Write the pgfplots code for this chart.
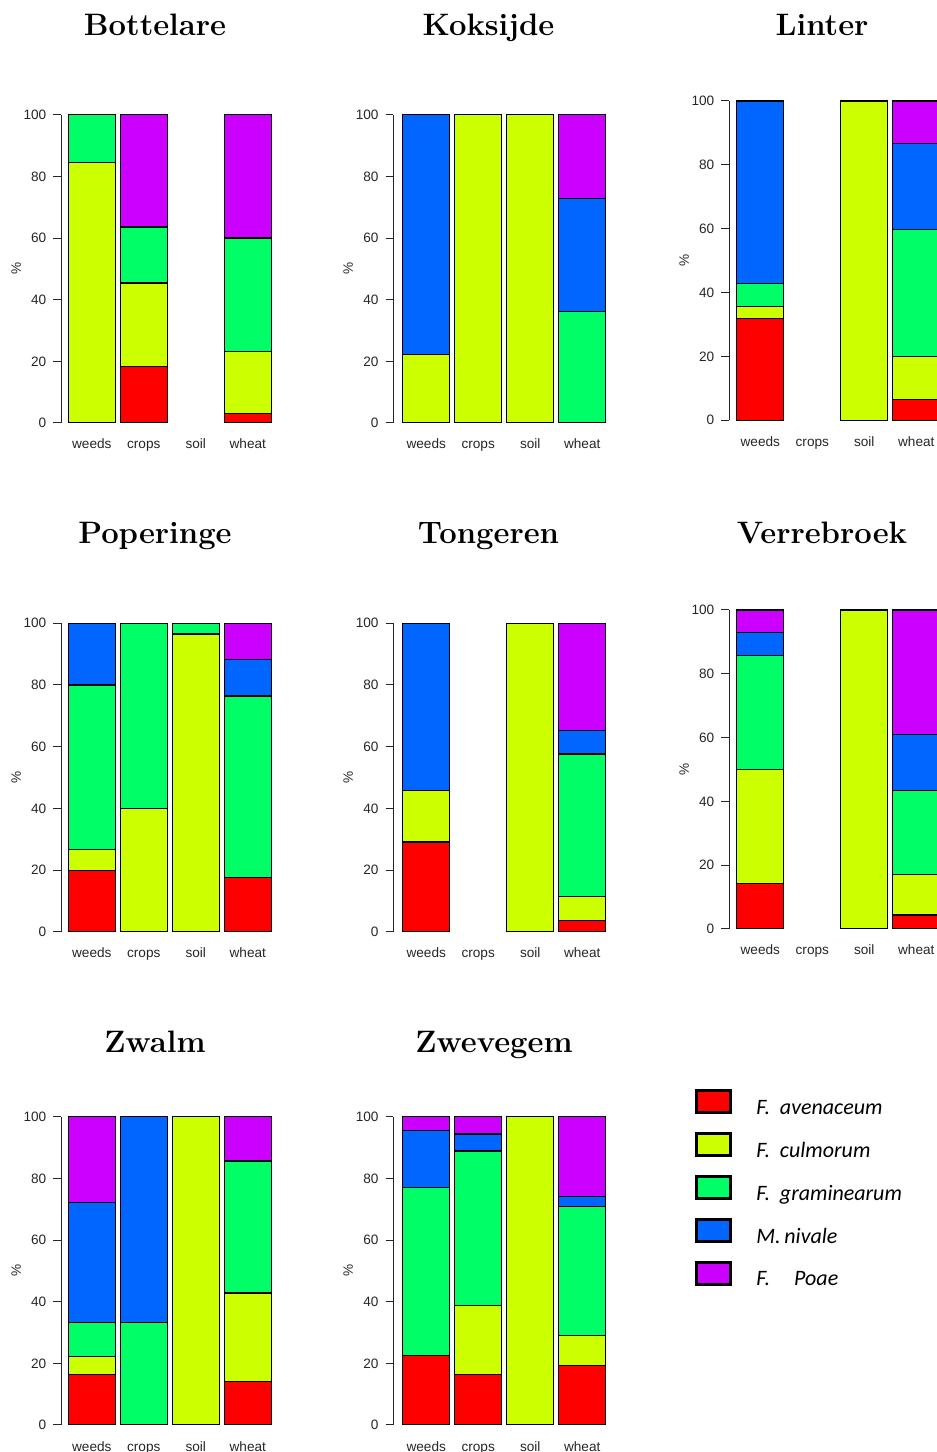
\documentclass[border=0pt]{standalone}
\usepackage{fontspec}
\usepackage{pgfplots}
\usepackage{pgfplotstable}
\pgfplotsset{compat=1.18}
\newfontfamily\sans{Liberation Sans}
\newfontfamily\legfont{Carlito}

\definecolor{cav}{HTML}{FF0000}
\definecolor{ccu}{HTML}{CCFF00}
\definecolor{cgr}{HTML}{00FF66}
\definecolor{cni}{HTML}{0066FF}
\definecolor{cpo}{HTML}{CC00FF}

% columns: F. avenaceum, F. culmorum, F. graminearum, M. nivale, F. poae
\pgfplotstableread{
x av cu gr ni po
0 0 84.6 15.4 0 0
1 18.2 27.2 18.2 0 36.4
3 3.2 20.1 36.7 0 40.0
}\tBottelare
\pgfplotstableread{
x av cu gr ni po
0 0 22.2 0 77.8 0
1 0 100 0 0 0
2 0 100 0 0 0
3 0 0 36.2 36.5 27.3
}\tKoksijde
\pgfplotstableread{
x av cu gr ni po
0 32.0 3.7 7.1 57.2 0
2 0 100 0 0 0
3 6.6 13.3 39.9 26.8 13.4
}\tLinter
\pgfplotstableread{
x av cu gr ni po
0 19.9 6.8 53.3 20.0 0
1 0 40.0 60.0 0 0
2 0 96.5 3.5 0 0
3 17.6 0 58.8 11.9 11.7
}\tPoperinge
\pgfplotstableread{
x av cu gr ni po
0 29.1 16.7 0 54.2 0
2 0 100 0 0 0
3 3.7 7.8 46.1 7.7 34.7
}\tTongeren
\pgfplotstableread{
x av cu gr ni po
0 14.2 35.9 35.6 7.2 7.1
2 0 100 0 0 0
3 4.4 12.8 26.3 17.5 39.0
}\tVerrebroek
\pgfplotstableread{
x av cu gr ni po
0 16.5 5.7 11.1 38.8 27.9
1 0 0 33.3 66.7 0
2 0 100 0 0 0
3 14.2 28.6 42.8 0 14.4
}\tZwalm
\pgfplotstableread{
x av cu gr ni po
0 22.6 0 54.5 18.4 4.5
1 16.5 22.3 50.1 5.5 5.6
2 0 100 0 0 0
3 19.2 9.8 41.9 3.2 25.9
}\tZwevegem

\pgfplotsset{
  panel/.style={
    scale only axis,
    ybar stacked,
    bar width=23.5pt,
    ymin=0, ymax=100, xmax=3.6,
    axis y line*=left, axis x line*=bottom,
    x axis line style={draw=none},
    y axis line style={black!85, line width=0.5pt},
    xtick={0,1,2,3},
    xticklabels={weeds,crops,soil,wheat},
    ytick={0,20,40,60,80,100},
    xtick style={draw=none},
    ytick style={black!85, line width=0.5pt},
    ytick align=outside, xtick align=inside,
    major tick length=3.85pt,
    ticklabel style={font=\sans\fontsize{6.8}{8}\selectfont, text=black!85},
    xticklabel style={anchor=base, yshift=-13pt},
    /pgf/number format/assume math mode=true,
    ylabel={\%},
    ylabel style={at={(axis description cs:-0.205,0.5)}, anchor=center, font=\sans\fontsize{6.8}{8}\selectfont, text=black!85},
  },
}

\newcommand{\panel}[7]{%
  \begin{axis}[panel, at={(#2,#3)}, anchor=south west, width=#4, height=#5, xmin=#6, #7]
    \addplot[fill=cav, draw=black, line width=0.6pt] table[x=x, y=av] {#1};
    \addplot[fill=ccu, draw=black, line width=0.6pt] table[x=x, y=cu] {#1};
    \addplot[fill=cgr, draw=black, line width=0.6pt] table[x=x, y=gr] {#1};
    \addplot[fill=cni, draw=black, line width=0.6pt] table[x=x, y=ni] {#1};
    \addplot[fill=cpo, draw=black, line width=0.6pt] table[x=x, y=po] {#1};
  \end{axis}}

\begin{document}
\begin{tikzpicture}
\useasboundingbox (0,0) rectangle (468.5pt,726pt);
\clip (0,0) rectangle (468.5pt,726pt);

% row 1
\panel{\tBottelare}{30.5pt}{514.5pt}{109pt}{154.15pt}{-0.592}{}
\panel{\tKoksijde}{196.65pt}{514.5pt}{110.06pt}{154.15pt}{-0.633}{}
\panel{\tLinter}{364.5pt}{515.85pt}{109.25pt}{159.65pt}{-0.602}{}
% row 2
\panel{\tPoperinge}{30.5pt}{260.15pt}{109pt}{154.2pt}{-0.592}{}
\panel{\tTongeren}{196.65pt}{260.15pt}{110.06pt}{154.2pt}{-0.633}{}
\panel{\tVerrebroek}{364.5pt}{261.5pt}{109.25pt}{159.5pt}{-0.602}{}
% row 3
\panel{\tZwalm}{30.5pt}{13.5pt}{109pt}{154.15pt}{-0.592}{}
\panel{\tZwevegem}{196.65pt}{13.5pt}{110.06pt}{154.15pt}{-0.633}{%
  legend entries={{F.\ \ avenaceum},{F.\ \ culmorum},{F.\ \ graminearum},{M.\,nivale},{F.\hspace{1.1em}Poae}},
  legend style={at={(axis description cs:1.3706,1.0898)}, anchor=north west,
    draw=none, fill=none, inner sep=0pt, row sep=7.25pt, column sep=0pt,
    font=\legfont\itshape\fontsize{11}{13}\selectfont,
    nodes={inner sep=0pt}},
  legend cell align=left,
  legend image code/.code={\draw[#1, draw=black, line width=1.4pt] (0pt,-2pt) rectangle (17pt,9pt); \path (29.5pt,0pt);},
}

% titles
\begin{scope}[every node/.style={anchor=base, font=\rmfamily\bfseries\fontsize{15.5}{18}\selectfont}]
\node at (77.5pt,708pt) {Bottelare};
\node at (244.25pt,708pt) {Koksijde};
\node at (411pt,708pt) {Linter};
\node at (77.5pt,454pt) {Poperinge};
\node at (244.25pt,454pt) {Tongeren};
\node at (411pt,454pt) {Verrebroek};
\node at (77.5pt,199.5pt) {Zwalm};
\node at (247pt,199.5pt) {Zwevegem};
\end{scope}
\end{tikzpicture}
\end{document}
